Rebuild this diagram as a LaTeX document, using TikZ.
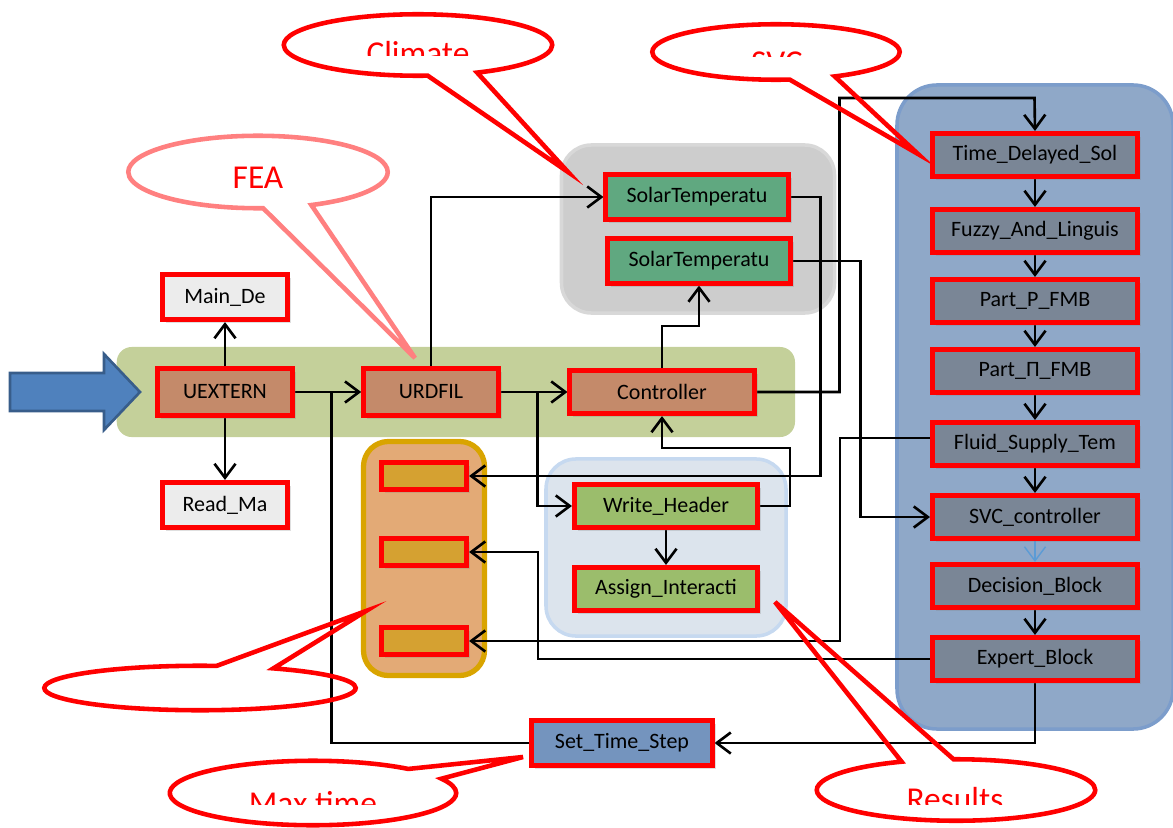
\documentclass[tikz,border=0pt]{standalone}
\usepackage{fontspec}
\setmainfont{Carlito}
\usepackage{tikz}
\usetikzlibrary{backgrounds,fit,calc,shapes.callouts,shadows,arrows.meta}

\definecolor{bandgreen}{RGB}{196,208,154}
\definecolor{brownbox}{RGB}{196,138,106}
\definecolor{lightbox}{RGB}{236,236,236}
\definecolor{climgrey}{RGB}{205,205,205}
\definecolor{climedge}{RGB}{216,216,216}
\definecolor{solargreen}{RGB}{96,168,128}
\definecolor{svcblue}{RGB}{143,168,200}
\definecolor{svcedge}{RGB}{124,157,203}
\definecolor{svcbox}{RGB}{122,134,150}
\definecolor{resblue}{RGB}{220,228,237}
\definecolor{resedge}{RGB}{198,217,240}
\definecolor{resgreen}{RGB}{155,189,108}
\definecolor{bndorange}{RGB}{227,170,118}
\definecolor{bndedge}{RGB}{217,164,0}
\definecolor{bndbox}{RGB}{213,161,49}
\definecolor{stepblue}{RGB}{116,148,190}
\definecolor{arrowblue}{RGB}{79,129,189}
\definecolor{arrowedge}{RGB}{56,93,138}
\definecolor{feared}{RGB}{255,128,128}
\definecolor{decblue}{RGB}{91,155,213}

\begin{document}
\begin{tikzpicture}[x=0.02cm,y=-0.02cm,thick]
    % `block' is used for every red-framed box.
    % `flow' is used for the connectors.
    % `surround' is used for the background boxes.
    % `callout' and `calltext' are used for the red balloons.
    \tikzstyle{block} = [draw=red,line width=2.6pt,minimum width=2.7cm,minimum height=0.93cm,inner sep=1pt,font=\fontsize{12.5}{14}\selectfont,drop shadow={shadow xshift=2pt,shadow yshift=-2pt,opacity=0.25}]
    \tikzstyle{flow} = [line width=1.5pt,-{Straight Barb[length=8pt,width=12pt]}]
    \tikzstyle{surround} = [rounded corners=4mm]
    \tikzstyle{callout} = [ellipse callout,draw=red,line width=2.6pt,inner sep=0pt,callout pointer arc=22]
    \tikzstyle{calltext} = [text=red,font=\fontsize{19}{22}\selectfont,anchor=base,inner sep=0pt]
    %
    \useasboundingbox (0,0) rectangle (1173,828);
    %
    % main line
    \node[block,fill=brownbox] (uextern) at (225,392) {UEXTERN};
    \node[block,fill=brownbox] (urdfil) at (431,392) {URDFIL};
    \node[block,fill=brownbox,minimum width=3.69cm,minimum height=0.87cm] (ctrl) at (662,392) {Controller};
    \node[block,fill=lightbox,minimum width=2.51cm,minimum height=0.91cm] (maind) at (225,297) {Main\_De};
    \node[block,fill=lightbox,minimum width=2.51cm,minimum height=0.91cm] (readma) at (225,505) {Read\_Ma};
    %
    % climate
    \node[block,fill=solargreen,minimum width=3.65cm,minimum height=0.89cm] (sol1) at (697,197) {SolarTemperatu};
    \node[block,fill=solargreen,minimum width=3.65cm,minimum height=0.89cm] (sol2) at (699,261) {SolarTemperatu};
    %
    % svc column
    \node[block,fill=svcbox,minimum width=4.11cm,minimum height=0.87cm] (tds) at (1035,155) {Time\_Delayed\_Sol};
    \node[block,fill=svcbox,minimum width=4.11cm,minimum height=0.87cm] (fal) at (1035,231) {Fuzzy\_And\_Linguis};
    \node[block,fill=svcbox,minimum width=4.11cm,minimum height=0.87cm] (ppf) at (1035,301) {Part\_P\_FMB};
    \node[block,fill=svcbox,minimum width=4.11cm,minimum height=0.87cm] (pif) at (1035,371) {Part\_П\_FMB};
    \node[block,fill=svcbox,minimum width=4.11cm,minimum height=0.87cm] (fst) at (1035,444) {Fluid\_Supply\_Tem};
    \node[block,fill=svcbox,minimum width=4.11cm,minimum height=0.87cm] (svcc) at (1035,517) {SVC\_controller};
    \node[block,fill=svcbox,minimum width=4.11cm,minimum height=0.87cm] (db) at (1035,586) {Decision\_Block};
    \node[block,fill=svcbox,minimum width=4.11cm,minimum height=0.87cm] (eb) at (1035,659) {Expert\_Block};
    %
    % results
    \node[block,fill=resgreen,minimum width=3.67cm,minimum height=0.87cm] (wh) at (666,506) {Write\_Header};
    \node[block,fill=resgreen,minimum width=3.67cm,minimum height=0.87cm] (ai) at (666,589) {Assign\_Interacti};
    %
    % boundary
    \node[block,fill=bndbox,minimum width=1.71cm,minimum height=0.55cm] (ob1) at (424,476) {};
    \node[block,fill=bndbox,minimum width=1.71cm,minimum height=0.55cm] (ob2) at (424,552) {};
    \node[block,fill=bndbox,minimum width=1.71cm,minimum height=0.55cm] (ob3) at (424,641) {};
    %
    \node[block,fill=stepblue,minimum width=3.61cm,minimum height=0.91cm] (sts) at (622,743) {Set\_Time\_Step};
    %
    % input arrow
    \draw[fill=arrowblue,draw=arrowedge,line width=1.5pt] (10,373) -- (104,373) -- (104,354) -- (140,392)
        -- (104,430) -- (104,411) -- (10,411) -- cycle;
    %
    \begin{pgfonlayer}{background}
        % Draw background boxes.
        \node[surround,fill=bandgreen,rounded corners=3mm,fit=(uextern)(ctrl),inner xsep=0.77cm,inner ysep=0.39cm] (band) {};
        \node[surround,fill=climgrey,draw=climedge,line width=2pt,rounded corners=6mm,fit=(sol1)(sol2),inner xsep=0.84cm,inner ysep=0.55cm] (climgrp) {};
        \node[surround,fill=svcblue,draw=svcedge,line width=2pt,rounded corners=8mm,fit=(tds)(eb),inner xsep=0.66cm,inner ysep=0.92cm] (svcgrp) {};
        \node[surround,fill=resblue,draw=resedge,line width=2pt,rounded corners=6mm,fit=(wh)(ai),inner xsep=0.52cm,inner ysep=0.46cm] (resgrp) {};
        \node[surround,fill=bndorange,draw=bndedge,line width=3pt,rounded corners=5mm,fit=(ob1)(ob3),inner xsep=0.31cm,inner ysep=0.37cm] (bndgrp) {};
        % Draw lines.
        \draw[flow] (uextern.north) -- (maind.south);
        \draw[flow] (uextern.south) -- (readma.north);
        \draw[flow] (uextern.east) -- (urdfil.west);
        \draw[flow] (urdfil.east) -- (ctrl.west);
        \draw[flow] (urdfil.north) |- (sol1.west);
        \draw[flow] (ctrl.north) -- ++(0,-42) -| (sol2.south);
        \draw[flow] (ctrl.east) -- ++(83,0) |- ++(195,-294) -- (tds.north);
        \draw[flow] (sol1.east) -- ++(30,0) |- (ob1.east);
        \draw[flow] (sol2.east) -- ++(68,0) |- (svcc.west);
        \draw[flow] ($(urdfil.east)!0.55!(ctrl.west)$) |- (wh.west);
        \draw[flow] (wh.east) -- ++(30,0) -- ++(0,-58) -| (ctrl.south);
        \draw[flow] (wh.south) -- (ai.north);
        \draw[flow] ($(fst.west)+(0,-6)$) -- ++(-90,0) |- (ob3.east);
        \draw[flow] (eb.west) -- ++(-392,0) |- (ob2.east);
        \draw[flow] (eb.south) |- (sts.east);
        \draw[line width=1.5pt] (sts.west) -| ($(uextern.east)!0.55!(urdfil.west)$);
        \foreach \a/\b in {tds/fal,fal/ppf,ppf/pif,pif/fst,fst/svcc,db/eb}
            \draw[flow] (\a.south) -- (\b.north);
        \draw[flow,draw=decblue,line width=0.8pt] (svcc.south) -- (db.north);
    \end{pgfonlayer}
    %
    % callouts
    \node[callout,minimum width=5.37cm,minimum height=1.23cm,callout absolute pointer={(568,172)}] (climate) at (418,45) {};
    \node[callout,draw=feared,minimum width=5.19cm,minimum height=1.45cm,callout absolute pointer={(415,358)}] (fea) at (258,172) {};
    \node[callout,minimum width=4.95cm,minimum height=1.11cm,callout absolute pointer={(918,154)}] (svc) at (776,52) {};
    \node[callout,minimum width=6.23cm,minimum height=0.89cm,callout absolute pointer={(366,611)}] (bnd) at (200,688) {};
    \node[callout,minimum width=5.73cm,minimum height=1.29cm,callout absolute pointer={(523,757)}] (maxtime) at (313,793) {};
    \node[callout,minimum width=5.57cm,minimum height=1.23cm,callout absolute pointer={(775,602)}] (results) at (956,790) {};
    \node[calltext] (featxt) at (258,188) {FEA};
    \begin{scope}
        \clip (250,0) rectangle (600,56);
        \node[calltext] (climatetxt) at (418,65) {Climate};
    \end{scope}
    \begin{scope}
        \clip (650,0) rectangle (900,57);
        \node[calltext] (svctxt) at (777,74) {SVC};
    \end{scope}
    \begin{scope}
        \clip (150,760) rectangle (1173,804);
        \node[calltext] (maxtimetxt) at (313,814) {Max time};
        \node[calltext] (resultstxt) at (955,810) {Results};
    \end{scope}
\end{tikzpicture}
\end{document}
